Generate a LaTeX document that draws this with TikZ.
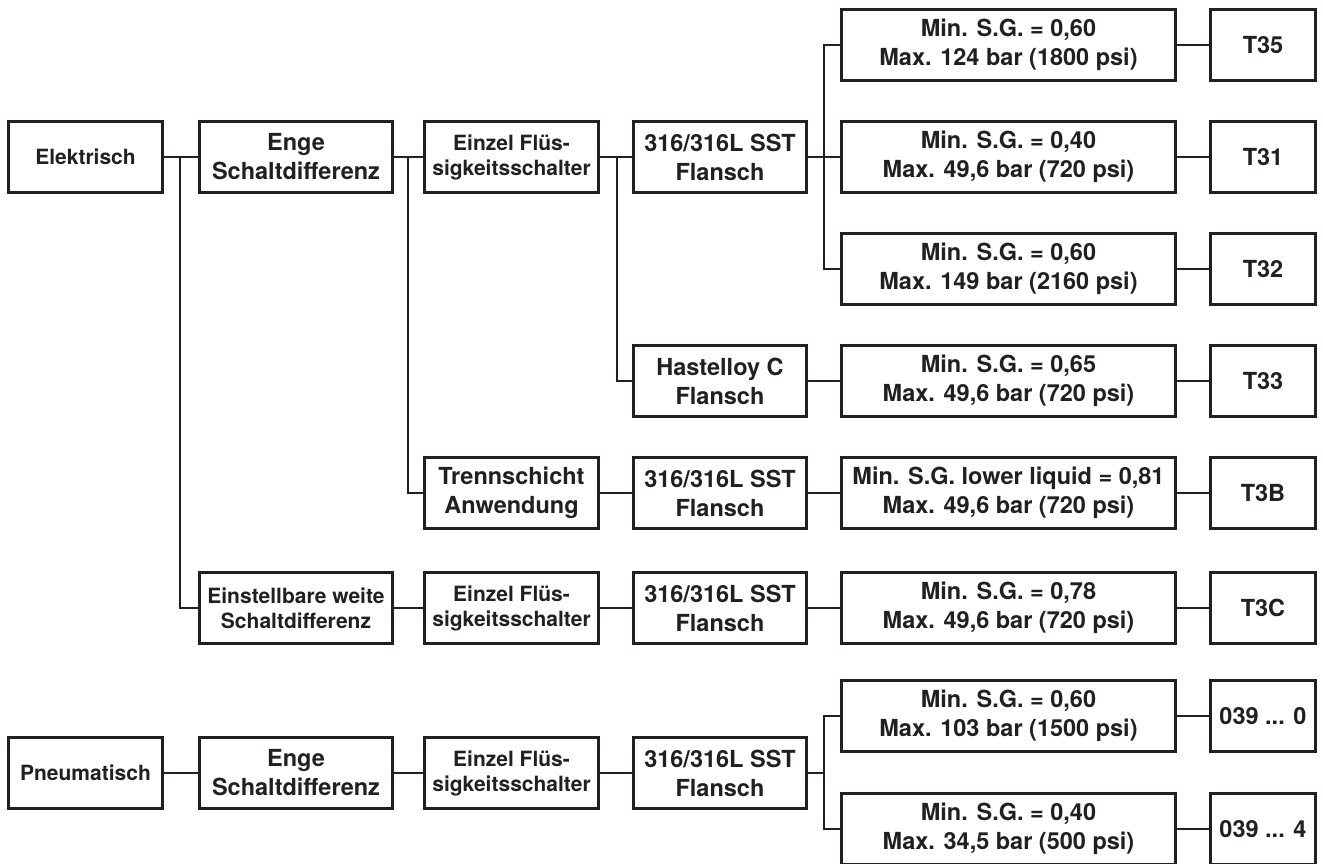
\documentclass[tikz,border=0pt]{standalone}
\usepackage{fontspec}
\setmainfont{TeX Gyre Heros}
\definecolor{ink}{RGB}{35,31,32}
\begin{document}
\begin{tikzpicture}[x=1pt,y=-1pt,
  bx/.style={draw=ink, line width=2.6pt, rectangle, inner sep=0pt, align=center,
    text=ink, minimum height=71pt, font=\fontsize{23.5}{29}\selectfont\bfseries},
  sm/.style={font=\fontsize{21}{25}\selectfont\bfseries},
  c1/.style={minimum width=154pt},
  c2/.style={minimum width=193pt},
  c3/.style={minimum width=174pt},
  c4/.style={minimum width=173pt},
  c5/.style={minimum width=334pt},
  c6/.style={minimum width=105pt},
  ln/.style={draw=ink, line width=1.3pt}]
\useasboundingbox (0,0) rectangle (1323,863);
\clip (0,0) rectangle (1323,863);
% Top section
\node[bx,sm,c1] (el) at (85.5,157) {Elektrisch};
\node[bx,c2] (enge) at (296,157) {Enge\\Schaltdifferenz};
\node[bx,sm,c3] (einz) at (511.5,157) {Einzel Flüs-\\sigkeitsschalter};
\node[bx,c4] (sst1) at (720,157) {316/316L SST\\Flansch};
\node[bx,c5] (min1) at (1008.5,45) {Min. S.G. = 0,60\\Max. 124 bar (1800 psi)};
\node[bx,c5] (min2) at (1008.5,157) {Min. S.G. = 0,40\\Max. 49,6 bar (720 psi)};
\node[bx,c5] (min3) at (1008.5,269) {Min. S.G. = 0,60\\Max. 149 bar (2160 psi)};
\node[bx,c6] (t35) at (1263,45) {T35};
\node[bx,c6] (t31) at (1263,157) {T31};
\node[bx,c6] (t32) at (1263,269) {T32};
\node[bx,c4] (has) at (720,381) {Hastelloy C\\Flansch};
\node[bx,c5] (min4) at (1008.5,381) {Min. S.G. = 0,65\\Max. 49,6 bar (720 psi)};
\node[bx,c6] (t33) at (1263,381) {T33};
\node[bx,c3] (trenn) at (511.5,493) {Trennschicht\\Anwendung};
\node[bx,c4] (sst2) at (720,493) {316/316L SST\\Flansch};
\node[bx,c5] (min5) at (1008.5,493) {Min. S.G. lower liquid = 0,81\\Max. 49,6 bar (720 psi)};
\node[bx,c6] (t3b) at (1263,493) {T3B};
\node[bx,sm,c2] (einst) at (296,608) {Einstellbare weite\\Schaltdifferenz};
\node[bx,sm,c3] (einz2) at (511.5,608) {Einzel Flüs-\\sigkeitsschalter};
\node[bx,c4] (sst3) at (720,608) {316/316L SST\\Flansch};
\node[bx,c5] (min6) at (1008.5,608) {Min. S.G. = 0,78\\Max. 49,6 bar (720 psi)};
\node[bx,c6] (t3c) at (1263,608) {T3C};
% Bottom section
\node[bx,sm,c1] (pn) at (85.5,773) {Pneumatisch};
\node[bx,c2] (enge2) at (296,773) {Enge\\Schaltdifferenz};
\node[bx,sm,c3] (einz3) at (511.5,773) {Einzel Flüs-\\sigkeitsschalter};
\node[bx,c4] (sst4) at (720,773) {316/316L SST\\Flansch};
\node[bx,c5] (pm1) at (1008.5,716) {Min. S.G. = 0,60\\Max. 103 bar (1500 psi)};
\node[bx,c5] (pm2) at (1008.5,829) {Min. S.G. = 0,40\\Max. 34,5 bar (500 psi)};
\node[bx,c6] (p0) at (1263,716) {039 ... 0};
\node[bx,c6] (p4) at (1263,829) {039 ... 4};
% bus points
\coordinate (b1) at (180,157);
\coordinate (b2) at (408,157);
\coordinate (b3) at (617,157);
\coordinate (b4) at (824,157);
\coordinate (b5) at (824,773);
% connectors top
\draw[ln] (el.east) -- (enge.west);
\draw[ln] (b1) |- (einst.west);
\draw[ln] (enge.east) -- (einz.west);
\draw[ln] (b2) |- (trenn.west);
\draw[ln] (einz.east) -- (sst1.west);
\draw[ln] (b3) |- (has.west);
\draw[ln] (sst1.east) -- (min2.west);
\draw[ln] (b4) |- (min1.west);
\draw[ln] (b4) |- (min3.west);
\draw[ln] (min1.east) -- (t35.west);
\draw[ln] (min2.east) -- (t31.west);
\draw[ln] (min3.east) -- (t32.west);
\draw[ln] (has.east) -- (min4.west);
\draw[ln] (min4.east) -- (t33.west);
\draw[ln] (trenn.east) -- (sst2.west);
\draw[ln] (sst2.east) -- (min5.west);
\draw[ln] (min5.east) -- (t3b.west);
\draw[ln] (einst.east) -- (einz2.west);
\draw[ln] (einz2.east) -- (sst3.west);
\draw[ln] (sst3.east) -- (min6.west);
\draw[ln] (min6.east) -- (t3c.west);
% connectors bottom
\draw[ln] (pn.east) -- (enge2.west);
\draw[ln] (enge2.east) -- (einz3.west);
\draw[ln] (einz3.east) -- (sst4.west);
\draw[ln] (sst4.east) -- (b5);
\draw[ln] (b5) |- (pm1.west);
\draw[ln] (b5) |- (pm2.west);
\draw[ln] (pm1.east) -- (p0.west);
\draw[ln] (pm2.east) -- (p4.west);
\end{tikzpicture}
\end{document}
